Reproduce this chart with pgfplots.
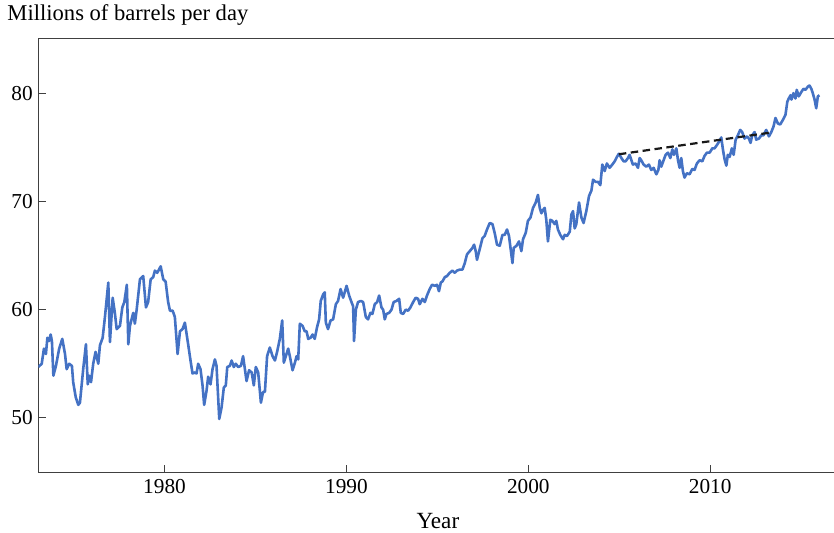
\documentclass[border=0pt]{standalone}
\usepackage{fontspec}
\setmainfont{Liberation Serif}
\usepackage{pgfplots}
\usepackage{pgfplotstable}
\pgfplotsset{compat=1.18}
\definecolor{oilblue}{RGB}{68,114,196}
\pgfplotstableread{
x y
1973.06 54.7
1973.25 55.0
1973.37 56.4
1973.48 55.9
1973.56 57.4
1973.65 57.1
1973.74 57.7
1973.81 57.1
1973.89 53.9
1974.03 54.8
1974.21 56.4
1974.38 57.3
1974.53 55.9
1974.62 54.5
1974.76 55.0
1974.91 54.8
1974.98 53.3
1975.12 51.9
1975.26 51.2
1975.35 51.4
1975.53 54.5
1975.68 56.8
1975.78 53.1
1975.86 53.9
1975.96 53.3
1976.08 55.0
1976.21 56.1
1976.36 55.0
1976.45 56.7
1976.60 57.4
1976.73 59.4
1976.91 62.5
1977.00 57.0
1977.15 61.1
1977.27 59.7
1977.37 58.2
1977.55 58.5
1977.68 60.2
1977.79 60.7
1977.93 62.3
1978.01 56.8
1978.10 58.5
1978.28 59.7
1978.37 58.7
1978.47 60.0
1978.65 62.8
1978.83 63.1
1978.98 60.2
1979.10 60.7
1979.24 62.8
1979.38 63.0
1979.47 63.6
1979.60 63.4
1979.79 64.0
1979.93 62.8
1980.06 62.6
1980.20 60.7
1980.30 59.9
1980.45 59.9
1980.57 59.3
1980.72 55.9
1980.85 58.0
1980.99 58.2
1981.12 58.8
1981.30 56.8
1981.43 55.3
1981.54 54.1
1981.67 54.2
1981.76 54.1
1981.85 55.0
1981.98 54.5
1982.09 53.0
1982.18 51.2
1982.31 52.5
1982.40 53.8
1982.53 53.1
1982.64 54.5
1982.77 55.4
1982.86 54.8
1983.01 49.9
1983.14 51.0
1983.26 52.8
1983.37 53.0
1983.45 54.7
1983.59 54.8
1983.69 55.3
1983.81 54.7
1983.92 55.0
1984.05 54.7
1984.20 54.8
1984.32 55.7
1984.42 54.5
1984.51 53.4
1984.65 54.4
1984.79 54.2
1984.91 53.0
1985.02 54.7
1985.15 54.2
1985.30 51.4
1985.42 52.4
1985.52 52.4
1985.64 55.7
1985.79 56.5
1985.94 55.7
1986.07 55.3
1986.19 56.1
1986.34 57.3
1986.47 59.0
1986.56 55.1
1986.67 55.7
1986.80 56.4
1986.89 55.7
1987.04 54.4
1987.17 55.1
1987.26 55.7
1987.35 55.4
1987.44 58.7
1987.59 58.5
1987.71 58.0
1987.81 58.0
1987.90 57.3
1988.03 57.4
1988.14 57.7
1988.26 57.3
1988.39 58.4
1988.50 59.1
1988.59 60.8
1988.72 61.4
1988.81 61.6
1988.87 58.8
1988.99 58.2
1989.13 59.0
1989.27 59.1
1989.42 60.5
1989.54 60.8
1989.68 61.9
1989.82 61.1
1990.01 62.2
1990.15 61.3
1990.28 60.7
1990.37 60.3
1990.42 57.1
1990.52 60.0
1990.64 60.7
1990.79 60.8
1990.92 60.7
1991.07 59.3
1991.19 59.1
1991.32 59.7
1991.43 59.6
1991.56 60.5
1991.69 60.7
1991.80 61.3
1991.93 60.2
1992.02 60.0
1992.11 59.1
1992.20 59.6
1992.35 59.7
1992.48 60.0
1992.60 60.7
1992.75 60.8
1992.90 61.0
1992.99 59.7
1993.12 59.6
1993.26 60.0
1993.39 59.9
1993.52 60.2
1993.67 60.7
1993.81 61.1
1993.94 61.0
1994.03 60.5
1994.18 61.0
1994.31 60.7
1994.43 61.3
1994.58 61.9
1994.71 62.3
1994.86 62.2
1994.98 62.3
1995.09 61.7
1995.19 62.5
1995.28 62.6
1995.41 63.0
1995.53 63.1
1995.68 63.4
1995.83 63.6
1995.96 63.4
1996.08 63.6
1996.23 63.7
1996.38 63.7
1996.51 64.3
1996.63 65.1
1996.78 65.4
1996.93 65.7
1997.02 66.0
1997.11 65.4
1997.18 64.6
1997.33 65.6
1997.48 66.6
1997.60 66.8
1997.73 67.4
1997.88 68.0
1998.03 67.9
1998.15 67.1
1998.28 66.0
1998.43 65.9
1998.58 66.9
1998.70 66.9
1998.83 67.4
1998.94 66.8
1999.03 65.6
1999.13 64.3
1999.20 65.7
1999.35 65.9
1999.49 66.3
1999.62 65.4
1999.71 66.5
1999.86 67.1
1999.98 68.2
2000.12 68.5
2000.26 69.4
2000.41 69.9
2000.53 70.6
2000.63 69.4
2000.72 68.9
2000.81 69.2
2000.90 69.4
2000.99 68.3
2001.08 66.3
2001.21 68.3
2001.32 68.2
2001.45 67.9
2001.54 68.2
2001.63 67.4
2001.76 66.9
2001.91 66.5
2002.00 66.9
2002.13 66.8
2002.28 67.2
2002.37 68.8
2002.46 69.1
2002.55 67.5
2002.64 67.9
2002.79 69.9
2002.92 68.5
2003.04 68.0
2003.19 69.1
2003.34 70.5
2003.47 71.0
2003.56 72.0
2003.70 71.8
2003.83 71.8
2003.96 71.5
2004.07 73.4
2004.20 72.8
2004.32 73.5
2004.47 73.1
2004.62 73.4
2004.75 73.7
2004.87 74.1
2004.98 74.4
2005.12 74.0
2005.24 73.7
2005.35 73.7
2005.48 74.0
2005.57 74.3
2005.67 73.8
2005.75 73.4
2005.90 73.5
2006.03 73.1
2006.12 74.0
2006.21 73.8
2006.34 73.4
2006.49 73.2
2006.63 73.4
2006.76 72.9
2006.89 73.1
2007.04 72.5
2007.15 72.9
2007.22 73.8
2007.31 73.2
2007.44 73.8
2007.55 74.3
2007.68 74.5
2007.81 74.0
2007.92 74.8
2008.01 74.3
2008.14 74.9
2008.23 73.8
2008.32 73.1
2008.41 74.0
2008.50 72.8
2008.59 72.2
2008.72 72.6
2008.87 72.5
2009.02 73.0
2009.14 72.9
2009.27 73.5
2009.42 73.8
2009.57 73.7
2009.69 74.2
2009.82 74.5
2009.97 74.5
2010.12 74.9
2010.24 74.9
2010.37 75.2
2010.52 75.6
2010.61 75.9
2010.70 74.8
2010.79 73.9
2010.89 73.3
2010.97 74.3
2011.07 74.1
2011.19 74.9
2011.29 74.3
2011.40 75.7
2011.52 76.1
2011.65 76.6
2011.76 76.4
2011.89 75.8
2012.02 76.0
2012.13 75.8
2012.22 75.4
2012.31 76.1
2012.44 76.4
2012.53 75.7
2012.68 75.8
2012.81 76.1
2012.93 76.1
2013.08 76.6
2013.23 76.0
2013.36 76.4
2013.48 76.9
2013.59 77.7
2013.72 77.2
2013.85 77.1
2013.99 77.5
2014.14 78.0
2014.24 79.2
2014.32 79.5
2014.42 79.8
2014.47 79.4
2014.58 80.0
2014.69 79.5
2014.76 80.3
2014.87 79.7
2015.01 80.1
2015.13 80.4
2015.24 80.3
2015.37 80.6
2015.46 80.7
2015.56 80.4
2015.64 80.0
2015.74 79.4
2015.83 78.6
2015.92 79.7
2016.01 79.8
}\oil
\pgfplotstableread{
x y
2004.98 74.35
2013.30 76.35
}\trend
\begin{document}
\begin{tikzpicture}[font=\fontsize{21.3bp}{25bp}\selectfont]
\begin{axis}[
  scale only axis,
  width=795.7bp, height=433.3bp,
  xmin=1973.06, xmax=2016.78,
  ymin=45, ymax=85,
  axis x line=box, axis y line=left,
  y axis line style={-},
  axis line style={black!75, line width=1bp},
  xtick={1980,1990,2000,2010},
  ytick={50,60,70,80},
  xtick pos=bottom, ytick pos=left,
  tick align=inside,
  major tick length=7.5bp,
  tick style={black!75, line width=0.9bp},
  /pgf/number format/assume math mode=true,
  xticklabel={\pgfmathprintnumber[1000 sep={}]{\tick}},
  yticklabel={\pgfmathprintnumber{\tick}},
  xticklabel style={yshift=-4bp},
  yticklabel style={xshift=-2bp},
  title={Millions of barrels per day},
  title style={at={(rel axis cs:0,1)}, anchor=base west, xshift=-31bp, yshift=12.5bp, inner sep=0pt, font=\fontsize{22.6bp}{27bp}\selectfont},
  xlabel={Year},
  xlabel style={at={(rel axis cs:0.5,0)}, anchor=base, yshift=-56.7bp, xshift=2bp, inner sep=0pt, font=\fontsize{23.2bp}{28bp}\selectfont},
  clip=true,
]
\addplot[oilblue, line width=2.6bp, line join=round] table[x=x,y=y]{\oil};
\addplot[black!90, line width=2.2bp, dash pattern=on 7.5bp off 4.5bp] table[x=x,y=y]{\trend};
\end{axis}
\path (current axis.south west) ++(-38.3bp,-60.7bp) rectangle ++(834bp,533bp);
\end{tikzpicture}
\end{document}
